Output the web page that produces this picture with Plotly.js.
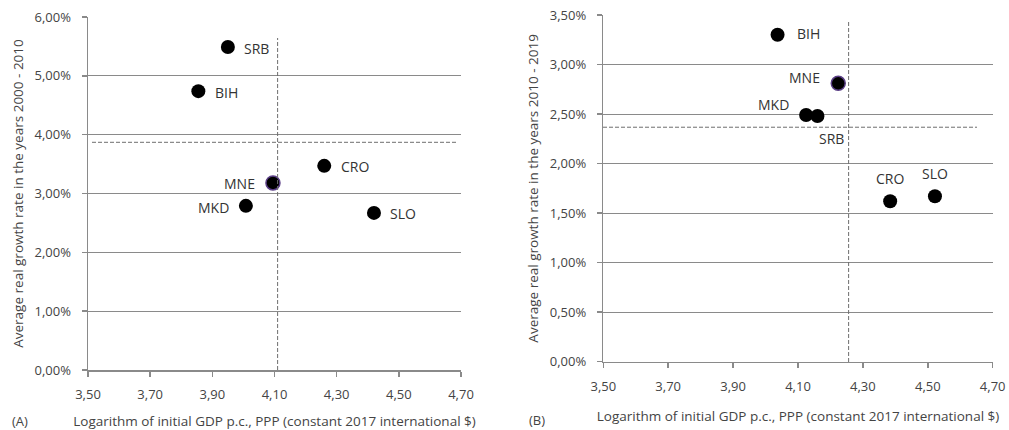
<!DOCTYPE html>
<html>
<head>
<meta charset="utf-8">
<script src="https://cdn.plot.ly/plotly-3.0.1.min.js"></script>
<style>html,body{margin:0;padding:0;background:#fff}#chart{width:1009px;height:430px}</style>
</head>
<body>
<div id="chart"></div>
<script>
// Panel A: 2000-2010
const countriesA = ['SRB', 'BIH', 'CRO', 'MNE', 'MKD', 'SLO'];
const logGdpA = [3.95, 3.855, 4.26, 4.095, 4.008, 4.42];
const growthA = [5.49, 4.74, 3.47, 3.18, 2.79, 2.67];
const meanXA = 4.11;
const meanYA = 3.87;

// Panel B: 2010-2019
const countriesB = ['BIH', 'MNE', 'MKD', 'SRB', 'CRO', 'SLO'];
const logGdpB = [4.037, 4.224, 4.125, 4.16, 4.384, 4.522];
const growthB = [3.30, 2.81, 2.49, 2.48, 1.62, 1.67];
const meanXB = 4.256;
const meanYB = 2.367;

const xTicks = [3.5, 3.7, 3.9, 4.1, 4.3, 4.5, 4.7];
const yTicksA = [0, 1, 2, 3, 4, 5, 6];
const yTicksB = [0, 0.5, 1, 1.5, 2, 2.5, 3, 3.5];

const xTitle = 'Logarithm of initial GDP p.c., PPP (constant 2017 international $)';
const yTitleA = 'Average real growth rate in the years 2000 - 2010';
const yTitleB = 'Average real growth rate in the years 2010 - 2019';

// label offsets (style, px)
const offA = {SRB:[29,-1], BIH:[28,-1], CRO:[31,-1], MNE:[-33,-1], MKD:[-32,-2], SLO:[29,-1]};
const offB = {BIH:[31,1], MNE:[-34,6], MKD:[-33,11], SRB:[14,-22], CRO:[0,23], SLO:[0,23]};

const FONT = 'Open Sans, Noto Sans, sans-serif';
const GRID = '#8a8a8a';
const DASH = '#6e6e6e';

const fmt = v => v.toFixed(2).replace('.', ',');

function markerFor(names) {
  return {
    size: 14,
    color: '#000',
    line: {color: names.map(n => n === 'MNE' ? '#5b3f86' : '#000'), width: names.map(n => n === 'MNE' ? 1.5 : 0)}
  };
}

const traces = [
  {x: logGdpA, y: growthA, type: 'scatter', mode: 'markers', marker: markerFor(countriesA), xaxis: 'x', yaxis: 'y', hoverinfo: 'skip'},
  {x: logGdpB, y: growthB, type: 'scatter', mode: 'markers', marker: markerFor(countriesB), xaxis: 'x2', yaxis: 'y2', hoverinfo: 'skip'}
];

const labelFont = {family: FONT, size: 14, color: '#333'};
const annotations = [];
countriesA.forEach((c, i) => annotations.push({
  x: logGdpA[i], y: growthA[i], xref: 'x', yref: 'y', text: c, showarrow: false,
  xshift: offA[c][0], yshift: offA[c][1], font: labelFont
}));
countriesB.forEach((c, i) => annotations.push({
  x: logGdpB[i], y: growthB[i], xref: 'x2', yref: 'y2', text: c, showarrow: false,
  xshift: offB[c][0], yshift: offB[c][1], font: labelFont
}));
annotations.push({x: 20/1009, y: 1 - 421/430, xref: 'paper', yref: 'paper', text: '(A)', showarrow: false, xanchor: 'center', yanchor: 'middle', font: {family: FONT, size: 13, color: '#444'}});
annotations.push({x: 537/1009, y: 1 - 420/430, xref: 'paper', yref: 'paper', text: '(B)', showarrow: false, xanchor: 'center', yanchor: 'middle', font: {family: FONT, size: 13, color: '#444'}});

const dash = {color: DASH, width: 1, dash: '4px,2px'};
const shapes = [
  {type: 'line', xref: 'x', yref: 'paper', x0: meanXA, x1: meanXA, y0: 1 - 370/430, y1: 1 - 38/430, line: dash},
  {type: 'line', xref: 'paper', yref: 'y', x0: 92/1009, x1: 457/1009, y0: meanYA, y1: meanYA, line: dash},
  {type: 'line', xref: 'x2', yref: 'paper', x0: meanXB, x1: meanXB, y0: 1 - 362/430, y1: 1 - 21/430, line: dash},
  {type: 'line', xref: 'paper', yref: 'y2', x0: 603/1009, x1: 977/1009, y0: meanYB, y1: meanYB, line: dash}
];

const tickFont = {family: FONT, size: 13, color: '#444'};
const titleFont = {family: FONT, size: 13.5, color: '#444'};

function xAxis(domain, anchor, standoff) {
  return {
    domain: domain, anchor: anchor, range: [3.5, 4.7], tickvals: xTicks, ticktext: xTicks.map(fmt),
    showgrid: false, zeroline: false, showline: true, linecolor: GRID, linewidth: 1.5,
    ticks: 'outside', ticklen: 5, tickcolor: GRID, tickwidth: 1.5, tickfont: tickFont, ticklabelstandoff: 7,
    title: {text: xTitle, font: titleFont, standoff: standoff}, fixedrange: true
  };
}
function yAxis(domain, anchor, range, ticks, title) {
  return {
    domain: domain, anchor: anchor, range: range, tickvals: ticks, ticktext: ticks.map(v => fmt(v) + '%'),
    showgrid: true, gridcolor: GRID, gridwidth: 1, zeroline: false, showline: true, linecolor: GRID, linewidth: 1.5,
    ticks: 'outside', ticklen: 5, tickcolor: GRID, tickwidth: 1.5, tickfont: tickFont, ticklabelstandoff: 8,
    title: {text: title, font: titleFont, standoff: 8}, fixedrange: true
  };
}

const layout = {
  width: 1009, height: 430,
  margin: {l: 0, r: 0, t: 0, b: 0},
  paper_bgcolor: '#fff', plot_bgcolor: '#fff',
  showlegend: false,
  font: {family: FONT},
  xaxis: xAxis([88/1009, 461/1009], 'y', 14),
  yaxis: yAxis([1 - 370/430, 1 - 17/430], 'x', [0, 6], yTicksA, yTitleA),
  xaxis2: xAxis([603.3/1009, 992.7/1009], 'y2', 18),
  yaxis2: yAxis([1 - 361.7/430, 1 - 15/430], 'x2', [0, 3.5], yTicksB, yTitleB),
  shapes: shapes,
  annotations: annotations
};

Plotly.newPlot('chart', traces, layout, {displayModeBar: false, staticPlot: true});
</script>
</body>
</html>
